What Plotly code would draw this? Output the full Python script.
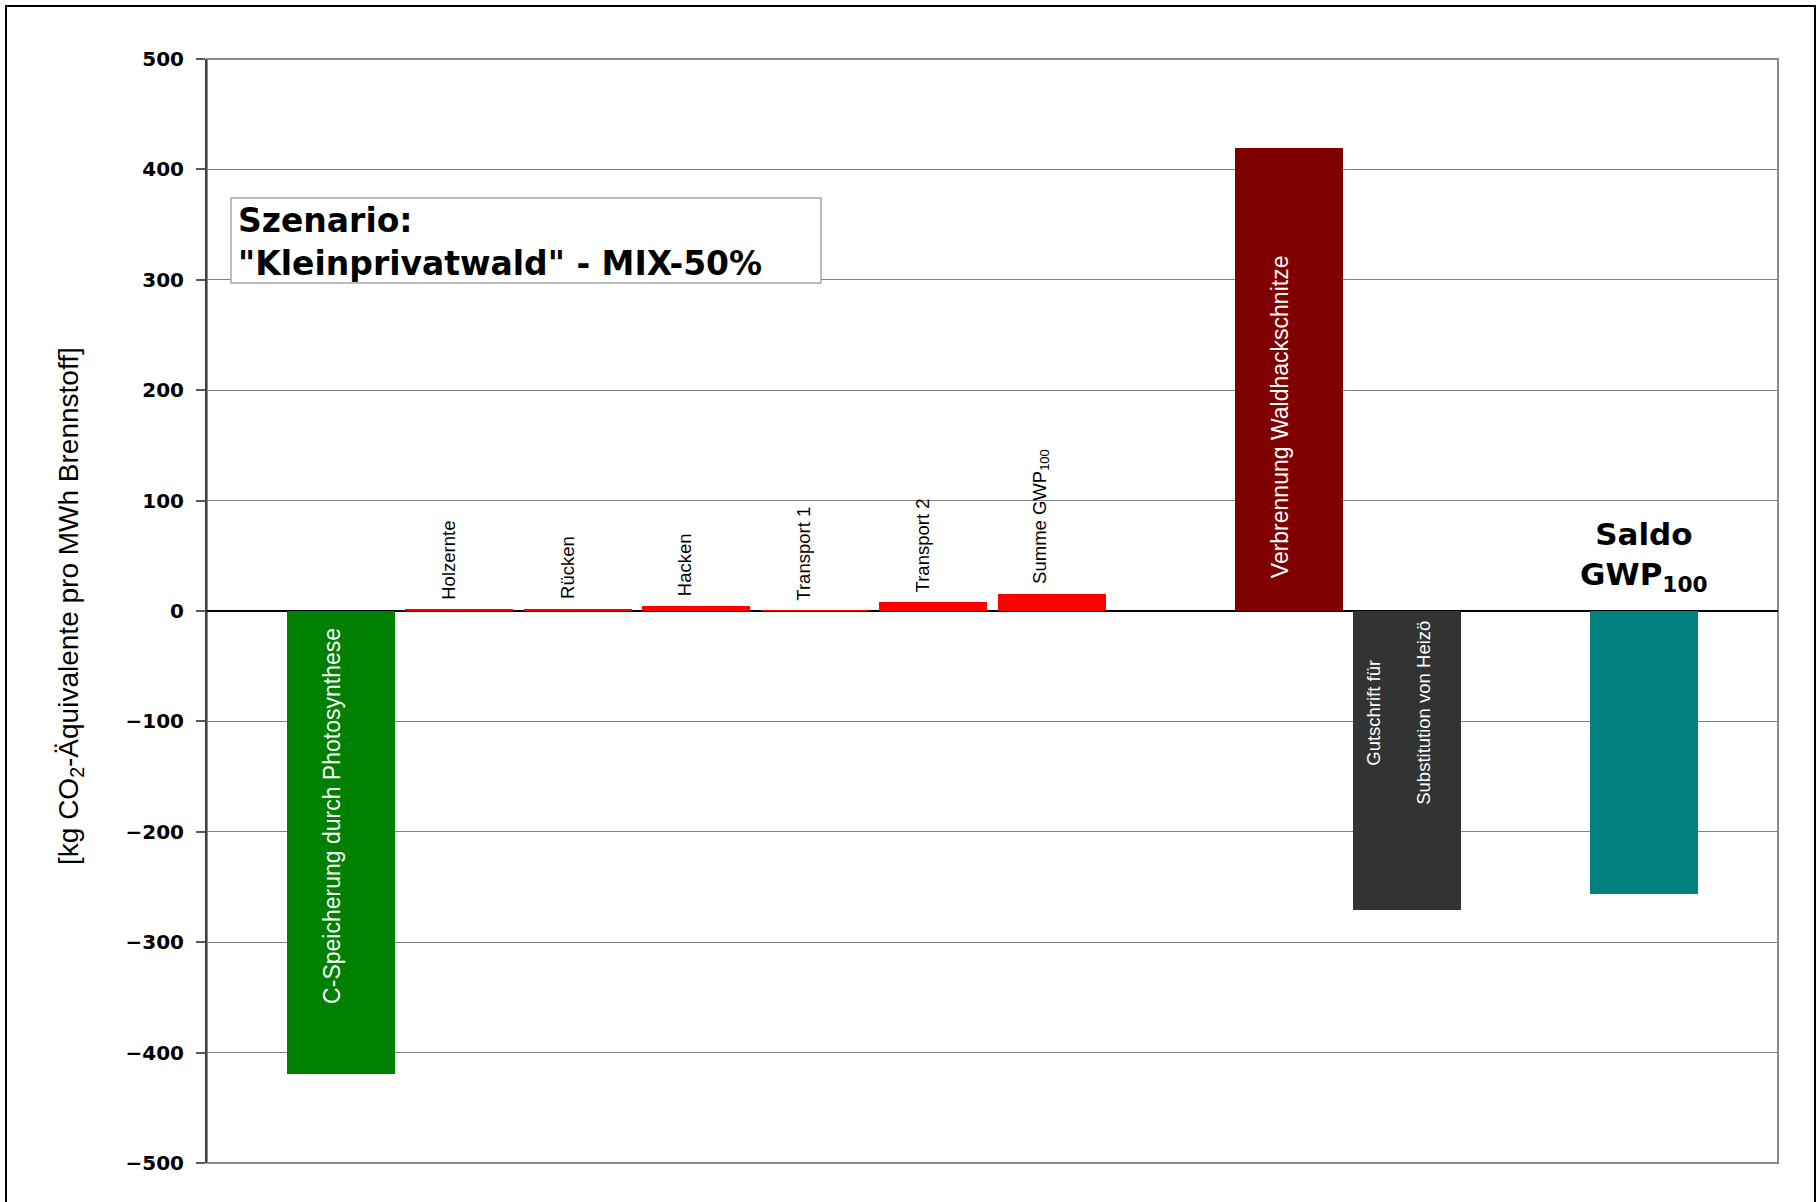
import plotly.graph_objects as go

# GWP100 balance per process step, kg CO2-equivalents per MWh fuel
categories = [
    "C-Speicherung durch Photosynthese",
    "Holzernte",
    "Rücken",
    "Hacken",
    "Transport 1",
    "Transport 2",
    "Summe GWP<sub>100</sub>",
    "Verbrennung Waldhackschnitze",
    "Gutschrift für<br>Substitution von Heizö",
    "Saldo<br>GWP<sub>100</sub>",
]
values = [-419, 1.0, 2.2, 4.2, 0.1, 8.0, 15.7, 419, -271, -256]
# block of each bar: process chain, combustion/credit, balance
groups = [0, 0, 0, 0, 0, 0, 0, 1, 1, 2]
colors = ["#008000", "#FF0000", "#FF0000", "#FF0000", "#FF0000", "#FF0000",
          "#FF0000", "#800000", "#333333", "#008080"]

y_ticks = [-500, -400, -300, -200, -100, 0, 100, 200, 300, 400, 500]
y_title = "[kg CO<sub>2</sub>-Äquivalente pro MWh Brennstoff]"
box_text = "<b>Szenario:<br>\"Kleinprivatwald\" - MIX-50%</b>"

# one empty slot between blocks
xpos = [i + g for i, g in enumerate(groups)]

W, H = 1820, 1202
M_L, M_R, M_T, M_B = 207, 42, 59, 39

fig = go.Figure()
fig.add_trace(go.Bar(
    x=xpos, y=values, width=0.91,
    marker=dict(color=colors, line=dict(width=0)),
    hoverinfo="skip", showlegend=False,
))

ann = []
white_big = dict(family="Liberation Sans, Arial, sans-serif", size=23, color="white")
white_small = dict(family="Liberation Sans, Arial, sans-serif", size=18.5, color="white")
black_small = dict(family="Liberation Sans, Arial, sans-serif", size=18.5, color="black")

for x, v, lab, g in zip(xpos, values, categories, groups):
    if g == 2:
        # balance label above the bar
        ann.append(dict(x=x, y=0, xref="x", yref="y", text="<b>" + lab + "</b>",
                        showarrow=False, xanchor="center", yanchor="bottom", yshift=12,
                        font=dict(family="DejaVu Sans, Arial, sans-serif", size=31, color="black")))
    elif abs(v) > 300 and v < 0:
        ann.append(dict(x=x, y=0, xref="x", yref="y", text=lab, textangle=-90,
                        showarrow=False, xanchor="center", yanchor="top",
                        yshift=-15, xshift=-9, font=white_big))
    elif abs(v) > 300:
        ann.append(dict(x=x, y=0, xref="x", yref="y", text=lab, textangle=-90,
                        showarrow=False, xanchor="center", yanchor="bottom",
                        yshift=31, xshift=-9, font=white_big))
    elif v < 0:
        lines = lab.split("<br>")
        for k, (line, dx) in enumerate(zip(lines, [-34, 16])):
            ann.append(dict(x=x, y=v / 2, xref="x", yref="y", text=line, textangle=-90,
                            showarrow=False, xanchor="center", yanchor="middle",
                            yshift=48, xshift=dx, font=white_small))
    else:
        ann.append(dict(x=x, y=v, xref="x", yref="y", text=lab, textangle=-90,
                        showarrow=False, xanchor="center", yanchor="bottom",
                        yshift=8, xshift=-11, font=black_small))

pw = W - M_L - M_R
ph = H - M_T - M_B


def px(xp):
    return (xp - M_L) / pw


def py(yp):
    return (H - M_B - yp) / ph


# y-axis title
ann.append(dict(x=px(70), y=py(606), xref="paper", yref="paper", text=y_title,
                textangle=-90, showarrow=False, xanchor="center", yanchor="middle",
                font=dict(family="Liberation Sans, Arial, sans-serif", size=28, color="black")))

# scenario box text
ann.append(dict(x=px(236), y=py(242), xref="paper", yref="paper", text=box_text,
                showarrow=False, xanchor="left", yanchor="middle", align="left",
                font=dict(family="DejaVu Sans, Arial, sans-serif", size=33, color="black")))

shapes = [
    # plot frame
    dict(type="rect", xref="paper", yref="paper", x0=0, x1=1, y0=0, y1=1,
         line=dict(color="#8c8c8c", width=2), layer="below"),
    # scenario box
    dict(type="rect", xref="paper", yref="paper", x0=px(231), x1=px(821),
         y0=py(283), y1=py(198), line=dict(color="#a6a6a6", width=1.5),
         fillcolor="white", layer="above"),
    # outer chart border
    dict(type="rect", xref="paper", yref="paper", x0=px(6), x1=px(1815),
         y0=py(1215), y1=py(6), line=dict(color="black", width=2)),
]

fig.update_layout(
    width=W, height=H,
    margin=dict(l=M_L, r=M_R, t=M_T, b=M_B, pad=0),
    paper_bgcolor="white", plot_bgcolor="white",
    bargap=0,
    annotations=ann,
    shapes=shapes,
    xaxis=dict(range=[-1.13, 12.13], showticklabels=False, showgrid=False,
               zeroline=False, showline=False, ticks=""),
    yaxis=dict(range=[-500, 500], tickvals=y_ticks, ticks="outside", ticklen=9,
               tickcolor="#595959", tickwidth=1.5,
               showgrid=True, gridcolor="#808080", gridwidth=1.3,
               zeroline=True, zerolinecolor="black", zerolinewidth=1.6,
               showline=True, linecolor="#404040", linewidth=2,
               ticklabelstandoff=8,
               tickfont=dict(family="DejaVu Sans, Arial, sans-serif", size=20,
                             color="black", weight="bold")),
)

fig.write_html("out.html")
